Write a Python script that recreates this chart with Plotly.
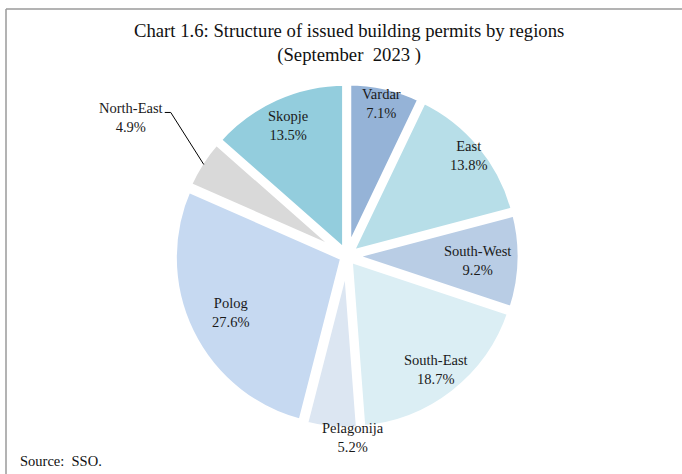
import math
import plotly.graph_objects as go

regions = ["Vardar", "East", "South-West", "South-East", "Pelagonija", "Polog", "North-East", "Skopje"]
shares = [7.1, 13.8, 9.2, 18.7, 5.2, 27.6, 4.9, 13.5]
colors = ["#95B3D7", "#B7DEE8", "#B9CDE5", "#DBEEF4", "#DCE6F2", "#C6D9F1", "#D9D9D9", "#93CDDD"]
# label placement style: distance from centre (px) and horizontal nudge (px)
label_dist = [156, 158, 131, 144, 182, 129, None, 143]
label_dx = [0, 0, 0, 0, 22, 0, 0, 0]

W, H = 682, 474
CX, CY = 347, 256      # pie centre in pixels (from top-left)
D = 174                # domain half size
PULL = 0.02
FONT = "Liberation Serif"

fig = go.Figure()
fig.add_trace(go.Pie(
    labels=regions, values=shares, sort=False, direction="clockwise", rotation=0,
    marker=dict(colors=colors, line=dict(color="white", width=7)),
    pull=[PULL] * len(regions), textinfo="none", hoverinfo="label+value",
    domain=dict(x=[(CX - D) / W, (CX + D) / W], y=[(H - CY - D) / H, (H - CY + D) / H]),
    showlegend=False,
))

def px2paper(x, y):
    return x / W, 1 - y / H

total = sum(shares)
cum = 0
annotations = []
shapes = []
for name, v, dist, dx in zip(regions, shares, label_dist, label_dx):
    mid = (cum + v / 2) / total * 2 * math.pi
    cum += v
    text = f"{name}<br>{v:.1f}%"
    if dist is None:
        # outside label with leader line (North-East)
        ex = CX + 170 * math.sin(mid)
        ey = CY - 170 * math.cos(mid)
        kx, ky = ex - 33, ey - 52
        x0, y0 = px2paper(kx - 6, ky)
        x1, y1 = px2paper(kx, ky)
        x2, y2 = px2paper(ex, ey)
        shapes.append(dict(type="path", xref="paper", yref="paper",
                           path=f"M {x0} {y0} L {x1} {y1} L {x2} {y2}",
                           line=dict(color="black", width=1)))
        lx, ly = px2paper(kx - 40, ky + 5)
    else:
        lx, ly = px2paper(CX + dist * math.sin(mid) + dx, CY - dist * math.cos(mid))
    annotations.append(dict(x=lx, y=ly, xref="paper", yref="paper", text=text,
                            showarrow=False, xanchor="center", yanchor="middle",
                            font=dict(family=FONT, size=14.5, color="#1a1a1a")))

tx, ty = px2paper(349, 43)
annotations.append(dict(x=tx, y=ty, xref="paper", yref="paper",
                        text="Chart 1.6: Structure of issued building permits by regions<br>(September  2023 )",
                        showarrow=False, xanchor="center", yanchor="middle",
                        font=dict(family=FONT, size=18.7, color="#111")))
sx, sy = px2paper(18, 461)
annotations.append(dict(x=sx, y=sy, xref="paper", yref="paper", text="Source:  SSO.",
                        showarrow=False, xanchor="left", yanchor="middle",
                        font=dict(family=FONT, size=14.5, color="#111")))

# frame
bx, by = px2paper(6, 9)
shapes.append(dict(type="line", xref="paper", yref="paper", x0=bx, y0=0, x1=bx, y1=by,
                   line=dict(color="#9a9a9a", width=1.5)))
shapes.append(dict(type="line", xref="paper", yref="paper", x0=bx, y0=by, x1=1, y1=by,
                   line=dict(color="#9a9a9a", width=1.5)))

fig.update_layout(width=W, height=H, margin=dict(l=0, r=0, t=0, b=0),
                  paper_bgcolor="white", plot_bgcolor="white",
                  annotations=annotations, shapes=shapes)
fig.write_html("out.html", config={"displayModeBar": False},
               post_script="document.body.style.margin='0';document.body.style.overflow='hidden';")
